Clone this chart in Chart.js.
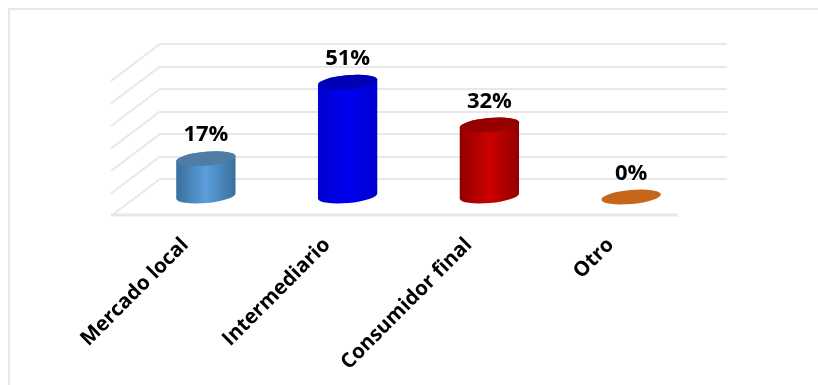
<!DOCTYPE html>
<html>
<head>
<meta charset="utf-8">
<style>
  html, body { margin: 0; padding: 0; background: #fff; }
  #wrap { position: relative; width: 818px; height: 385px; overflow: hidden; }
  #frame { position: absolute; left: 8px; top: 8px; right: 0; bottom: 0; border-top: 2px solid #e4e8ee; border-left: 2px solid #e4e8ee; }
</style>
<script src="https://cdn.jsdelivr.net/npm/chart.js@4/dist/chart.umd.min.js"></script>
</head>
<body>
<div id="wrap">
  <div id="frame"></div>
  <canvas id="chart" width="818" height="385" style="position:absolute;left:0;top:0"></canvas>
</div>
<script>
const categories = ['Mercado local', 'Intermediario', 'Consumidor final', 'Otro'];
const values = [17, 51, 32, 0];
const tickValues = [0, 10, 20, 30, 40, 50, 60];

// cylinder colours: middle of the side, edge of the side, top cap
const midColors = ['#5b9fdc', '#0000f0', '#cc0000', '#c5661a'];
const edgeColors = ['#3a6f9e', '#0000d0', '#930000', '#c5661a'];
const capColors = ['#4f7da6', '#0000b4', '#960000', '#c5661a'];

// how far the bars stand in front of the back wall, and the wall depth
const BAR_DX = -25, BAR_DY = 18;
const WALL_DX = -49, WALL_DY = 37;
const TILT = -0.09;

class CylinderElement extends Chart.BarElement {
    draw(ctx) {
        const { x, y, base, width } = this.getProps(['x', 'y', 'base', 'width']);
        const i = this.$context.dataIndex;
        const cx = x + BAR_DX;
        const top = y + BAR_DY;
        const bottom = base + BAR_DY;
        const a = width / 2, b = 7;

        ctx.save();
        if (bottom - top > 0.5) {
            const grad = ctx.createLinearGradient(cx - a, 0, cx + a, 0);
            grad.addColorStop(0, edgeColors[i]);
            grad.addColorStop(0.5, midColors[i]);
            grad.addColorStop(1, edgeColors[i]);
            ctx.fillStyle = grad;
            ctx.beginPath();
            ctx.ellipse(cx, bottom, a, b, TILT, 0, Math.PI);
            ctx.ellipse(cx, top, a, b, TILT, Math.PI, Math.PI * 2);
            ctx.closePath();
            ctx.fill();
        }
        ctx.fillStyle = capColors[i];
        ctx.beginPath();
        ctx.ellipse(cx, top, a, b, TILT, 0, Math.PI * 2);
        ctx.fill();
        ctx.restore();
    }
}
CylinderElement.id = 'cylinderBar';
CylinderElement.defaults = Chart.BarElement.defaults;
CylinderElement.defaultRoutes = Chart.BarElement.defaultRoutes;

class CylinderController extends Chart.BarController {}
CylinderController.id = 'cylinder';
CylinderController.defaults = Object.assign({}, Chart.BarController.defaults, { dataElementType: 'cylinderBar' });
CylinderController.overrides = Chart.BarController.overrides;

Chart.register(CylinderElement, CylinderController);

// side wall and floor of the 3d box
const wallPlugin = {
    id: 'wall',
    beforeDatasetsDraw(chart) {
        const { ctx, chartArea, scales } = chart;
        const yScale = scales.y;
        ctx.save();
        ctx.strokeStyle = '#e8e8e8';
        ctx.lineWidth = 2;
        tickValues.forEach(function (v) {
            const py = yScale.getPixelForValue(v);
            ctx.beginPath();
            ctx.moveTo(chartArea.left, py);
            ctx.lineTo(chartArea.left + WALL_DX, py + WALL_DY);
            ctx.stroke();
        });
        const floorY = yScale.getPixelForValue(0) + WALL_DY - 1;
        ctx.strokeStyle = '#e6e8f0';
        ctx.lineWidth = 3;
        ctx.beginPath();
        ctx.moveTo(chartArea.left + WALL_DX, floorY);
        ctx.lineTo(chartArea.right + WALL_DX, floorY);
        ctx.stroke();
        ctx.restore();
    }
};

// percentage labels over each cylinder
const labelPlugin = {
    id: 'valueLabels',
    afterDatasetsDraw(chart) {
        const { ctx } = chart;
        const meta = chart.getDatasetMeta(0);
        ctx.save();
        ctx.font = 'bold 22px "Open Sans", sans-serif';
        ctx.fillStyle = '#000';
        ctx.textAlign = 'center';
        ctx.textBaseline = 'alphabetic';
        meta.data.forEach(function (bar, i) {
            ctx.fillText(values[i] + '%', bar.x + BAR_DX, bar.y + BAR_DY - 17.5);
        });
        ctx.restore();
    }
};

new Chart(document.getElementById('chart'), {
    type: 'cylinder',
    data: {
        labels: categories,
        datasets: [{
            data: values,
            backgroundColor: midColors,
            barPercentage: 0.42,
            categoryPercentage: 1,
            clip: false
        }]
    },
    options: {
        responsive: false,
        animation: false,
        layout: { padding: { left: 160, right: 91, top: 44, bottom: 0 } },
        plugins: { legend: { display: false }, tooltip: { enabled: false } },
        scales: {
            x: {
                grid: { display: false },
                border: { display: false },
                afterFit: function (scale) { scale.height = 206; },
                ticks: {
                    color: '#000',
                    font: { family: '"Open Sans", sans-serif', weight: 'bold', size: 20.5 },
                    minRotation: 45,
                    maxRotation: 45,
                    padding: 46,
                    labelOffset: -45.5
                }
            },
            y: {
                min: 0,
                max: 60,
                afterFit: function (scale) { scale.width = 0; },
                border: { display: false },
                grid: { color: '#e8e8e8', lineWidth: 2, drawTicks: false },
                ticks: { display: false, stepSize: 10 }
            }
        }
    },
    plugins: [wallPlugin, labelPlugin]
});
</script>
</body>
</html>
